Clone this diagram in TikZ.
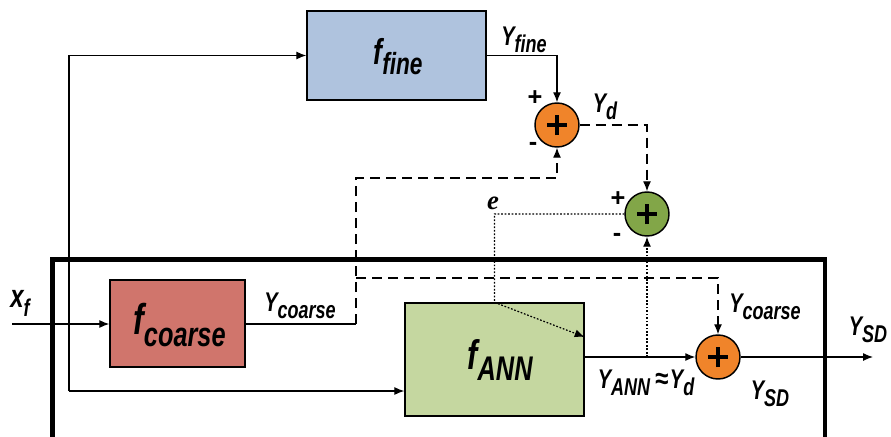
\documentclass[tikz,border=0pt]{standalone}
\usepackage{fontspec}
\usepackage{graphicx}
\setmainfont{Liberation Sans}
\newfontfamily\serifit{Liberation Serif}
\usetikzlibrary{arrows.meta,calc}
\definecolor{fineblue}{RGB}{175,195,222}
\definecolor{coarsered}{RGB}{208,117,108}
\definecolor{anngreen}{RGB}{197,215,160}
\definecolor{sumorange}{RGB}{240,132,42}
\definecolor{sumgreen}{RGB}{130,166,72}
\newcommand\lbl[4]{\scalebox{1}[1.35]{\fontsize{#3}{#3}\selectfont\bfseries\itshape #1\raisebox{-0.28em}{\fontsize{#4}{#4}\selectfont #2}}}
\begin{document}
\begin{tikzpicture}[x=0.75pt,y=-0.75pt,
  >={Latex[length=7.5pt,width=6pt]},
  conn/.style={line width=0.9pt},
  dashline/.style={conn,dash pattern=on 7.5pt off 4.5pt},
  dotline/.style={conn,dash pattern=on 1.3pt off 1.3pt},
  blockbox/.style={draw,line width=1pt,inner sep=0pt,anchor=center},
  sumnode/.style={circle,draw,line width=1.1pt,minimum size=33pt,inner sep=0pt,
    path picture={\draw[line width=3pt] ([xshift=-7.5pt]path picture bounding box.center) -- ([xshift=7.5pt]path picture bounding box.center);
                  \draw[line width=3pt] ([yshift=-7.5pt]path picture bounding box.center) -- ([yshift=7.5pt]path picture bounding box.center);}},
  txt/.style={inner sep=0pt,anchor=center},
  sign/.style={txt,font=\fontsize{19}{19}\selectfont\bfseries}
]
\useasboundingbox (0,0) rectangle (891,436);
\begin{scope}
\clip (0,0) rectangle (891,436);
% outer thick frame
\draw[line width=3.4pt] (52.5,438) |- (825,259.7) -- (825,438);
% blocks
\node[blockbox,fill=fineblue,minimum width=134.25pt,minimum height=66.75pt] (fine) at (396.5,55.5) {};
\node[blockbox,fill=coarsered,minimum width=101.25pt,minimum height=65.25pt] (coarse) at (177.5,323.5) {};
\node[blockbox,fill=anngreen,minimum width=134.25pt,minimum height=84.75pt] (ann) at (494.5,359.5) {};
% summing junctions
\node[sumnode,fill=sumorange] (s1) at (557,125) {};
\node[sumnode,fill=sumgreen] (s2) at (647,214) {};
\node[sumnode,fill=sumorange] (s3) at (718,357) {};
% block labels
\node[txt] (lfine) at (398,57) {\lbl{f}{fine}{20}{17}};
\node[txt] (lcoarse) at (179.5,325) {\lbl{f}{coarse}{24}{19}};
\node[txt] (lann) at (500,360) {\lbl{f}{ANN}{23}{19}};
% coordinates
\coordinate (xin) at (12,324);
\coordinate (bl) at (69,391);
\coordinate (c1) at (356,324);
\coordinate (c2) at (356,178);
\coordinate (c3) at (356,278);
\coordinate (out) at (873,357);
% connectors
\draw[conn,->] (xin) -- (coarse.west |- xin);
\draw[conn,->] (bl) |- (fine.west);
\draw[conn,->] (bl) -- (ann.west |- bl);
\draw[conn,->] (fine.east) -| (s1.north);
\draw[dashline,->] (s1.east) -| (s2.north);
\draw[conn] (coarse.east |- c1) -- (c1);
\draw[dashline,->] (c1) -- (c2) -| (s1.south);
\draw[dashline,->] (c3) -| (s3.north);
\draw[dotline,->] (s2.west) -| (ann.north) -- ($(ann.east)+(0,-22.5)$);
\draw[dotline,->] (s2.south |- s3.west) -- (s2.south);
\draw[conn,->] (ann.east |- s3.west) -- (s3.west);
\draw[conn,->] (s3.east) -- (out);
% text labels
\node[txt] (lyfine) at (524,40) {\lbl{Y}{fine}{15}{13.5}};
\node[txt] (lyd) at (605,107) {\lbl{Y}{d}{15}{13.5}};
\node[sign] (p1) at (535,98) {+};
\node[sign] (m1) at (533,146) {-};
\node[sign] (p2) at (618,199) {+};
\node[sign] (m2) at (617,237) {-};
\node[txt] (le) at (493,203) {\fontsize{20}{20}\selectfont\serifit\bfseries\itshape e};
\node[txt] (lyc1) at (300,306) {\lbl{Y}{coarse}{15}{13.5}};
\node[txt] (lyc2) at (765,307) {\lbl{Y}{coarse}{15}{13.5}};
\node[txt] (lxf) at (20,303) {\lbl{x}{f}{18}{13.5}};
\node[txt] (lysd1) at (868,330) {\lbl{Y}{SD}{15}{13.5}};
\node[txt] (lysd2) at (770,394) {\lbl{Y}{SD}{15}{13.5}};
\node[txt] (lyann) at (646,383) {\lbl{Y}{ANN}{15}{13.5}\hspace{4pt}\scalebox{1}[1.2]{\fontsize{18}{18}\selectfont\bfseries ≈}\hspace{1pt}\lbl{Y}{d}{15}{13.5}};
\end{scope}
\end{tikzpicture}
\end{document}
